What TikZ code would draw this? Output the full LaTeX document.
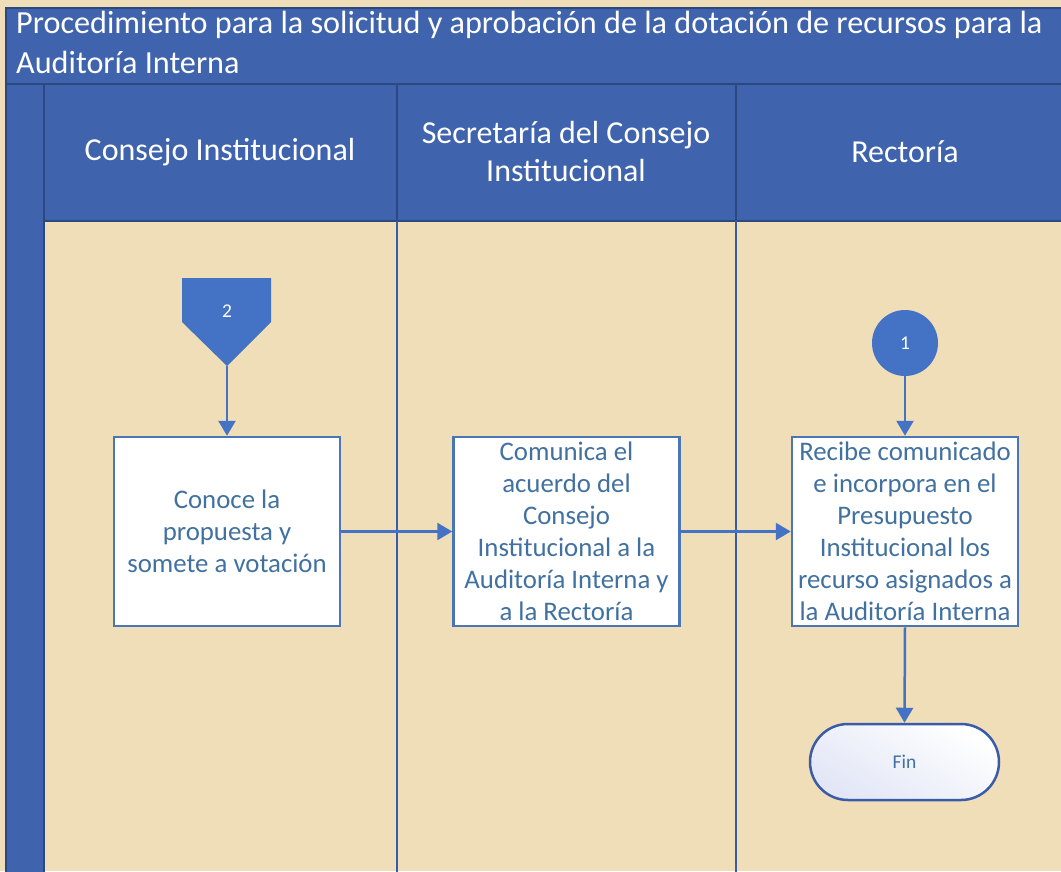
\documentclass[tikz,border=0pt]{standalone}
\usepackage{fontspec}
\setmainfont{Carlito}
\usetikzlibrary{arrows.meta}
\definecolor{parch}{RGB}{240,222,185}
\definecolor{hdrblue}{RGB}{63,99,173}
\definecolor{hdrline}{RGB}{44,72,128}
\definecolor{laneblue}{RGB}{58,92,168}
\definecolor{shpblue}{RGB}{68,114,196}
\definecolor{bordblue}{RGB}{74,118,184}
\definecolor{txtblue}{RGB}{65,113,160}
\definecolor{lav}{RGB}{226,230,246}
\tikzset{
  hdr/.style={fill=hdrblue,draw=hdrline,line width=2pt},
  lane/.style={draw=laneblue,line width=2.5pt},
  procbox/.style={draw=bordblue,line width=2.5pt,fill=white,minimum width=226pt,minimum height=189pt,inner sep=0pt,align=center,text=txtblue,font=\fontsize{26.8}{32}\selectfont},
  flow/.style={draw=shpblue,line width=2.5pt,-{Triangle[length=15pt,width=17pt]}},
  hdrtext/.style={text=white,align=center,font=\fontsize{32}{38}\selectfont},
  small/.style={font=\fontsize{19.5}{22}\selectfont}
}
\begin{document}
\begin{tikzpicture}[x=1pt,y=-1pt]
\useasboundingbox (0,0) rectangle (1061,871);
\fill[parch] (0,0) rectangle (1061,871);
% title
\draw[hdr] (6,8) rectangle (1075,84);
\node[anchor=north west,text=white,align=left,inner sep=0pt,font=\fontsize{32.2}{40}\selectfont] (title) at (16,11)
 {Procedimiento para la solicitud y aprobación de la dotación de recursos para la\\Auditoría Interna};
% left strip
\draw[hdr] (6,84) rectangle (44,880);
% header cells
\draw[hdr] (44,84) rectangle (397,221);
\draw[hdr] (397,84) rectangle (736,221);
\draw[hdr] (736,84) rectangle (1075,221);
\node[hdrtext] (h1) at (220,152) {Consejo Institucional};
\node[hdrtext] (h2) at (566,152) {Secretaría del Consejo\\Institucional};
\node[hdrtext] (h3) at (905,152) {Rectoría};
% lane lines
\draw[lane] (397,221) -- (397,875);
\draw[lane] (736,221) -- (736,875);
% off-page connector 2
\fill[shpblue] (182,278) -- (271,278) -- (271,322) -- (227,366) -- (182,322) -- cycle;
\node[small,text=white] (c2) at (227,311) {2};
\coordinate (c2tip) at (227,366);
% circle 1
\node[circle,fill=shpblue,minimum size=66pt,inner sep=0pt,small,text=white] (c1) at (905,343) {1};
% process boxes
\node[procbox] (b1) at (227,531.5) {Conoce la\\propuesta y\\somete a votación};
\node[procbox] (b2) at (566.5,531.5) {Comunica el\\acuerdo del\\Consejo\\Institucional a la\\Auditoría Interna y\\a la Rectoría};
\node[procbox] (b3) at (905,531.5) {Recibe comunicado\\e incorpora en el\\Presupuesto\\Institucional los\\recurso asignados a\\la Auditoría Interna};
% end terminator
\node[draw=laneblue,line width=2.5pt,rounded corners=38pt,minimum width=189pt,minimum height=76pt,inner sep=0pt,
      shading=axis,left color=white,right color=lav,shading angle=-30,small,text=txtblue] (fin) at (904.5,762) {Fin};
% connectors
\draw[flow] (c2tip) -- (b1.north);
\draw[flow] (b1.east) -- (b2.west);
\draw[flow] (b2.east) -- (b3.west);
\draw[flow] (c1.south) -- (b3.north);
\draw[flow] (b3.south) -- (fin.north);
\end{tikzpicture}
\end{document}
